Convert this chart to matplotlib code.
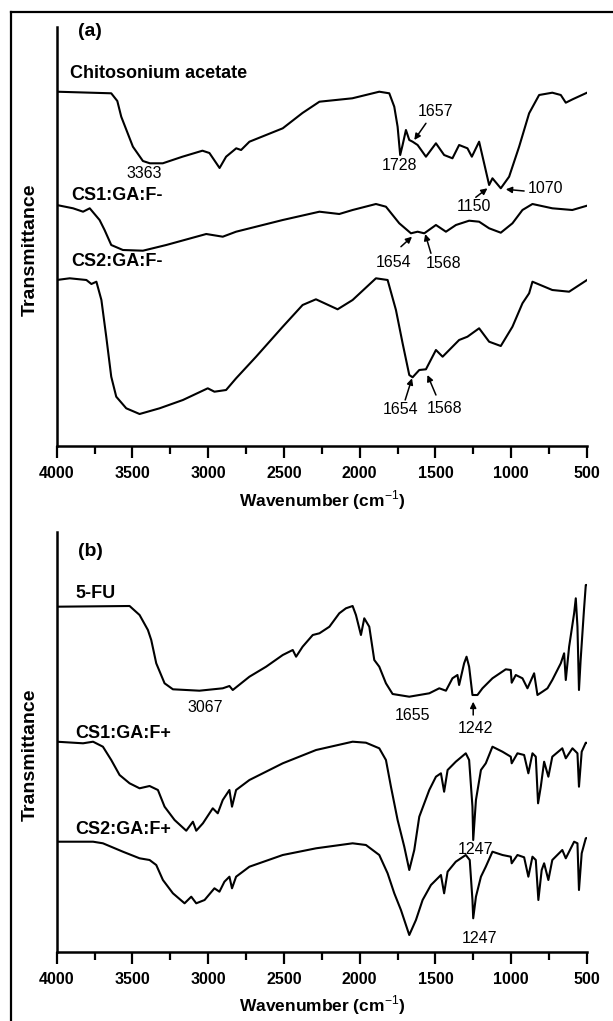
import matplotlib
matplotlib.use("Agg")
import matplotlib.pyplot as plt
from matplotlib.lines import Line2D

plt.rcParams['font.family'] = ['Liberation Sans', 'DejaVu Sans']
plt.rcParams['mathtext.fontset'] = 'custom'
plt.rcParams['mathtext.rm'] = 'Liberation Sans'
plt.rcParams['mathtext.bf'] = 'Liberation Sans:bold'

# ---------------- data (wavenumber, transmittance a.u.) ----------------
chito_w = [4000, 3640, 3600, 3574, 3497, 3431, 3385, 3300, 3170, 3038, 2992, 2925, 2882, 2815, 2783, 2728,
           2508, 2378, 2266, 2049, 1871, 1805, 1772, 1750, 1733, 1717, 1695, 1673, 1651, 1618, 1563,
           1497, 1443, 1388, 1344, 1289, 1260, 1212, 1179, 1146, 1124, 1069, 1014, 948, 882, 816,
           729, 673, 640, 595, 500]
chito_t = [354.3, 352.7, 345, 329.3, 299.3, 285, 282.7, 282.7, 289.3, 295.3, 293, 278, 289.3, 297.7, 296, 304.3,
           317.7, 333, 344.3, 347.7, 354.3, 352.7, 339.3, 319.3, 291, 301, 316, 306, 304.3, 301, 289.3,
           302.7, 291, 287.7, 301, 297.7, 289.3, 304.3, 282.7, 261, 267.7, 257.7, 269.3, 299.3, 332.7, 351,
           353.3, 351, 343.3, 346.7, 353.3]

cs1m_w = [4000, 3892, 3826, 3782, 3717, 3684, 3640, 3563, 3431, 3277, 3013, 2904, 2816, 2508, 2266,
          2135, 2047, 1893, 1827, 1739, 1662, 1618, 1574, 1497, 1431, 1365, 1278, 1212, 1146, 1069,
          992, 926, 860, 729, 597, 500]
cs1m_t = [241, 237.7, 234.3, 237.7, 226, 216, 201, 196, 195.3, 201, 212, 209.3, 214.3, 226, 234.3,
          232, 236, 242, 239.3, 222.7, 212.7, 214.3, 212.7, 221, 214.3, 221, 225.3, 224.3, 217.7, 213.3,
          222.7, 236, 242, 237.7, 236, 240.3]

cs2m_w = [4000, 3914, 3804, 3771, 3738, 3705, 3673, 3640, 3607, 3541, 3453, 3321, 3167, 3003, 2959,
          2882, 2816, 2684, 2508, 2377, 2289, 2146, 2047, 1893, 1816, 1761, 1717, 1673, 1651, 1607,
          1563, 1497, 1453, 1344, 1289, 1212, 1146, 1069, 992, 926, 882, 860, 729, 618, 500]
cs2m_t = [166, 167.7, 166, 162, 164.3, 146, 109.3, 69.3, 49.3, 37.7, 32, 37.7, 46, 57.7, 54.3,
          56, 67.7, 89.3, 119.3, 141, 146.7, 136.7, 146, 167.7, 166, 136, 102.7, 71, 68.7, 76,
          76.7, 96, 89.3, 106, 109.3, 117.7, 104.3, 100, 119.3, 142.7, 152.7, 164.3, 156, 154.3, 166]

fu_w = [4000, 3519, 3453, 3398, 3376, 3343, 3288, 3233, 3058, 2904, 2860, 2838, 2728, 2618, 2508,
        2442, 2420, 2377, 2310, 2266, 2200, 2135, 2091, 2047, 2025, 1992, 1970, 1937, 1904, 1871,
        1827, 1783, 1673, 1541, 1475, 1431, 1388, 1355, 1344, 1311, 1295, 1278, 1256, 1223, 1190,
        1124, 1036, 1003, 997, 970, 926, 893, 849, 827, 794, 761, 729, 673, 651, 640,
        618, 585, 574, 563, 553, 542, 520, 508, 500]
fu_t = [345.3, 346, 337, 322, 312, 288.7, 268.7, 262.7, 261.3, 263.7, 266, 262, 275.3, 285.3, 297,
        302, 295.3, 305.3, 317, 318.7, 325.3, 338.7, 343.7, 346, 337, 317, 333.7, 325.3, 292, 285.3,
        268.7, 258, 255.3, 258.7, 263.7, 261.3, 273.7, 277, 267, 288.7, 295.3, 285.3, 257, 257, 263.7,
        273.7, 282.7, 282, 269.3, 277, 273.7, 263.7, 278.7, 257, 260.3, 263.7, 272, 288.7, 298.7, 272,
        305.3, 338.7, 353.7, 325.3, 262, 292, 342, 367, 367]

cs1p_w = [4000, 3826, 3760, 3695, 3640, 3585, 3519, 3453, 3387, 3332, 3288, 3222, 3145, 3101, 3079,
          3035, 2970, 2937, 2904, 2860, 2843, 2816, 2728, 2508, 2288, 2047, 1959, 1871, 1827, 1794,
          1750, 1728, 1706, 1673, 1640, 1607, 1541, 1497, 1464, 1443, 1420, 1366, 1300, 1278, 1256,
          1251, 1233, 1200, 1168, 1124, 1058, 1003, 997, 959, 915, 887, 860, 838, 823, 805,
          783, 755, 729, 663, 640, 596, 563, 553, 535, 508, 500]
cs1p_t = [210.3, 208.7, 210.3, 205.3, 192, 177, 168.7, 163.7, 166, 162, 145.3, 132, 121.3, 130.3, 121.3,
          128.7, 143.7, 138.7, 152, 162, 145.3, 162, 172, 188.7, 202, 210.3, 209.3, 203.7, 192, 165.3,
          132, 118.7, 105.3, 82, 102, 135.3, 162, 175.3, 178.7, 160.3, 182, 190.3, 198.7, 192, 145.3,
          112, 152, 182, 188.7, 205.3, 200.3, 195.3, 188.7, 198.7, 197, 178.7, 198.7, 195.3, 148.7, 165.3,
          190.3, 175.3, 195.3, 203.7, 193.7, 203.7, 198.7, 165.3, 200.3, 209.3, 209]

cs2p_w = [4000, 3760, 3695, 3563, 3453, 3387, 3343, 3299, 3233, 3156, 3112, 3079, 3024, 2959, 2926,
          2893, 2860, 2843, 2816, 2728, 2508, 2288, 2047, 1959, 1871, 1816, 1772, 1728, 1673, 1629,
          1585, 1530, 1464, 1443, 1420, 1366, 1300, 1274, 1256, 1251, 1233, 1200, 1168, 1124, 1058,
          1003, 997, 959, 915, 887, 860, 838, 821, 799, 783, 755, 729, 663, 640, 585,
          563, 553, 535, 508, 500]
cs2p_t = [110.3, 110.3, 108.7, 100.3, 93.7, 92, 87, 72, 58.7, 48.7, 55.3, 48.7, 52, 63.7, 60.3,
          70.3, 75.3, 63.7, 75.3, 85.3, 97, 103.7, 108.7, 107, 97, 78.7, 58.7, 42, 17, 32,
          52, 67, 77, 58.7, 80.3, 90.3, 97, 92, 52, 33.7, 55.3, 75.3, 85.3, 100.3, 97,
          95.3, 88.7, 97, 94.7, 75.3, 95.3, 92, 52, 82, 88.7, 72, 92, 102, 93.7, 110.3,
          108.7, 62, 98.7, 113.7, 114]

labels_a = ['Chitosonium acetate', 'CS1:GA:F-', 'CS2:GA:F-']
labels_b = ['5-FU', 'CS1:GA:F+', 'CS2:GA:F+']
xticks = [4000, 3500, 3000, 2500, 2000, 1500, 1000, 500]

# ---------------- layout ----------------
W, H = 613, 1021
fig = plt.figure(figsize=(W / 100, H / 100), dpi=100)


def fx(px):
    return px / W


def fy(py):
    return 1 - py / H


x_left, x_right = 56.7, 587
ax_a = fig.add_axes([fx(x_left), fy(446), fx(x_right) - fx(x_left), (446 - 27) / H])
ax_b = fig.add_axes([fx(x_left), fy(952), fx(x_right) - fx(x_left), (952 - 532) / H])

for ax, top in ((ax_a, 419), (ax_b, 420)):
    ax.set_xlim(4000, 500)
    ax.set_ylim(0, top)
    ax.set_facecolor('none')
    for s in ('top', 'right'):
        ax.spines[s].set_visible(False)
    for s in ('left', 'bottom'):
        ax.spines[s].set_linewidth(1.8)
    ax.set_yticks([])
    ax.set_xticks(xticks)
    ax.set_xticks([3750, 3250, 2750, 2250, 1750, 1250, 750], minor=True)
    ax.tick_params(axis='x', which='major', direction='out', length=8.5, width=1.6, pad=6)
    ax.tick_params(axis='x', which='minor', direction='out', length=5.5, width=1.6)
    for lab in ax.get_xticklabels():
        lab.set_fontsize(11.5)
        lab.set_fontweight('bold')

lw = 1.5
ax_a.plot(chito_w, chito_t, color='black', lw=lw)
ax_a.plot(cs1m_w, cs1m_t, color='black', lw=lw)
ax_a.plot(cs2m_w, cs2m_t, color='black', lw=lw)
ax_b.plot(fu_w, fu_t, color='black', lw=lw)
ax_b.plot(cs1p_w, cs1p_t, color='black', lw=lw)
ax_b.plot(cs2p_w, cs2p_t, color='black', lw=lw)

# series labels
lab_kw = dict(fontsize=13, fontweight='bold', ha='left', va='center')
fig.text(fx(70), fy(73), labels_a[0], **lab_kw)
fig.text(fx(71), fy(196), labels_a[1], **lab_kw)
fig.text(fx(71), fy(262), labels_a[2], **lab_kw)
fig.text(fx(75), fy(593), labels_b[0], **lab_kw)
fig.text(fx(75), fy(733), labels_b[1], **lab_kw)
fig.text(fx(75), fy(830), labels_b[2], **lab_kw)

fig.text(fx(78), fy(32), '(a)', fontsize=14, fontweight='bold', ha='left', va='center')
fig.text(fx(78), fy(552), '(b)', fontsize=14, fontweight='bold', ha='left', va='center')

# axis titles
xl = r'Wavenumber (cm$^{-1}$)'
fig.text(fx(322), fy(500), xl, fontsize=12.5, fontweight='bold', ha='center', va='center')
fig.text(fx(322), fy(1005), xl, fontsize=12.5, fontweight='bold', ha='center', va='center')
fig.text(fx(30), fy(250), 'Transmittance', fontsize=14, fontweight='bold', rotation=90,
         ha='center', va='center')
fig.text(fx(30), fy(755), 'Transmittance', fontsize=14, fontweight='bold', rotation=90,
         ha='center', va='center')

# peak annotations
pk = dict(fontsize=11.5, ha='center', va='center')
arr = dict(arrowstyle='-|>', color='black', lw=1.1, mutation_scale=9, shrinkA=0, shrinkB=0)


def note(ax, text, xy_text, xy_from=None, xy_to=None):
    ax.text(xy_text[0], xy_text[1], text, **pk)
    if xy_from is not None:
        ax.annotate('', xy=xy_to, xytext=xy_from, arrowprops=arr)


note(ax_a, '3363', (3420, 272.7))
note(ax_a, '1728', (1739, 280))
note(ax_a, '1657', (1497, 334.3), (1563, 322.7), (1640, 306))
note(ax_a, '1150', (1245, 239.3), (1234, 248.7), (1157, 257.7))
note(ax_a, '1070', (772, 257.7), (915, 255), (1036, 256.7))
note(ax_a, '1654', (1779, 183.3), (1728, 199.3), (1655, 209.3))
note(ax_a, '1568', (1449, 182), (1530, 192.7), (1568, 212))
note(ax_a, '1654', (1728, 36), (1700, 46), (1655, 67.7))
note(ax_a, '1568', (1443, 37.7), (1497, 51), (1553, 71))

note(ax_b, '3067', (3018, 244.7))
note(ax_b, '1655', (1651, 237))
note(ax_b, '1242', (1234, 223.7), (1251, 237), (1251, 250.3))
note(ax_b, '1247', (1234, 102.7))
note(ax_b, '1247', (1212, 13.7))

# outer frame lines (left and top)
fig.add_artist(Line2D([fx(11), fx(11)], [fy(12), 0], color='black', lw=1.6,
                      transform=fig.transFigure))
fig.add_artist(Line2D([fx(11), 1], [fy(12), fy(12)], color='black', lw=1.6,
                      transform=fig.transFigure))

fig.savefig('out.png', dpi=100)
